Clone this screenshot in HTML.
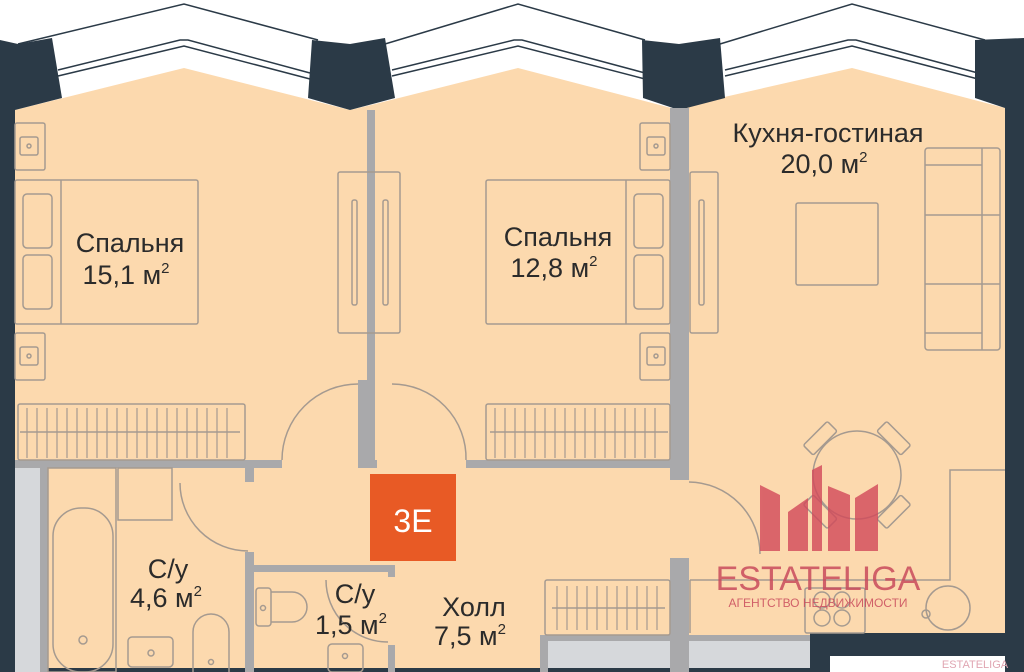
<!DOCTYPE html>
<html><head><meta charset="utf-8"><style>
html,body{margin:0;padding:0;background:#fff;}
svg{display:block;}
text{font-family:"Liberation Sans","DejaVu Sans",sans-serif;fill:#2b2b2b;}
</style></head><body>
<svg width="1024" height="672" viewBox="0 0 1024 672" xmlns="http://www.w3.org/2000/svg">
<rect width="1024" height="672" fill="#fff"/>
<polygon points="15,110 184,68 350,110 375,104 518,68 679,110 689,105 852,68 1005,108 1005,633 810,633 810,672 15,672" fill="#fcd9ae"/>
<g fill="none" stroke="#2b3a47" stroke-width="1.5">
<polyline points="18,44 184,4 318,40"/><polyline points="385,44 518,4 645,40"/><polyline points="720,44 852,4 985,40"/>
<polyline points="58,70 180,40 188,40 310,73"/><polyline points="58,76 184,46 310,79"/>
<polyline points="392,70 514,40 522,40 645,73"/><polyline points="392,76 518,46 645,79"/>
<polyline points="725,70 848,40 856,40 978,73"/><polyline points="725,76 852,46 978,79"/>
</g>
<g fill="#2b3a47">
<polygon points="0,40 18,44 52,38 62,98 15,110 15,672 0,672"/>
<polygon points="312,40 350,44 385,38 395,98 350,110 308,98"/>
<polygon points="642,40 679,44 720,38 725,98 679,110 643,98"/>
<polygon points="975,40 1024,38 1024,672 1005,672 1005,108 975,98"/>
<polygon points="810,633 1024,633 1024,672 810,672"/>
<rect x="22" y="668" width="790" height="4"/>
</g>
<rect x="830" y="656" width="175" height="16" fill="#fff"/>
<text x="975" y="668" font-size="11" text-anchor="middle" style="fill:#e0a6b2">ESTATELIGA</text>
<g fill="#a9a9ab">
<rect x="367" y="110" width="8" height="350"/>
<rect x="670" y="108" width="19" height="372"/>
<rect x="670" y="558" width="19" height="114"/>
<rect x="15" y="460" width="267" height="8"/>
<rect x="358" y="380" width="9" height="88"/>
<rect x="367" y="460" width="10" height="8"/>
<rect x="466" y="460" width="204" height="8"/>
<rect x="40" y="468" width="8" height="204"/>
<rect x="245" y="468" width="9" height="14"/>
<rect x="245" y="552" width="9" height="120"/>
<rect x="254" y="565" width="141" height="7"/>
<rect x="388" y="572" width="7" height="5"/>
<rect x="388" y="645" width="7" height="27"/>
<rect x="540" y="635" width="270" height="6"/>
<rect x="540" y="635" width="8" height="37"/>
</g>
<g fill="#d6d8db">
<rect x="15" y="468" width="25" height="204"/>
<rect x="548" y="641" width="122" height="27"/>
<rect x="689" y="641" width="121" height="27"/>
</g>
<rect x="370" y="474" width="86" height="87" fill="#e85a25"/>
<text x="413" y="532" font-size="32" text-anchor="middle" style="fill:#fff">3E</text>
<g fill="none" stroke="#a59a90" stroke-width="1.5">
<path d="M282,460 A76,76 0 0 1 358,384"/>
<path d="M392,384 A74,74 0 0 1 466,460"/>
<path d="M180,483 A68,68 0 0 0 248,551"/>
<path d="M326,580 A62,62 0 0 0 388,642"/>
<path d="M689,482 A72,72 0 0 1 760,554"/>
<rect x="15" y="123" width="30" height="47" rx="2"/><rect x="20" y="137" width="18" height="18" rx="2"/><circle cx="29" cy="146" r="2"/>
<rect x="15" y="333" width="30" height="47" rx="2"/><rect x="20" y="347" width="18" height="18" rx="2"/><circle cx="29" cy="356" r="2"/>
<rect x="15" y="180" width="183" height="144" rx="2"/><line x1="61" y1="180" x2="61" y2="324"/>
<rect x="23" y="194" width="29" height="54" rx="4"/><rect x="23" y="255" width="29" height="54" rx="4"/>
<rect x="338" y="172" width="62" height="161" rx="2"/>
<rect x="352" y="200" width="5" height="105" rx="2"/><rect x="383" y="200" width="5" height="105" rx="2"/>
<rect x="18" y="404" width="227" height="56" rx="2"/>
<line x1="20" y1="432" x2="240" y2="432"/>
<rect x="640" y="123" width="30" height="47" rx="2"/><rect x="647" y="137" width="18" height="18" rx="2"/><circle cx="656" cy="146" r="2"/>
<rect x="640" y="333" width="30" height="47" rx="2"/><rect x="647" y="347" width="18" height="18" rx="2"/><circle cx="656" cy="356" r="2"/>
<rect x="486" y="180" width="184" height="144" rx="2"/><line x1="626" y1="180" x2="626" y2="324"/>
<rect x="634" y="194" width="29" height="54" rx="4"/><rect x="634" y="255" width="29" height="54" rx="4"/>
<rect x="486" y="404" width="184" height="56" rx="2"/>
<line x1="490" y1="432" x2="668" y2="432"/>
<rect x="545" y="580" width="125" height="55" rx="2"/>
<line x1="552" y1="608" x2="665" y2="608"/>
<rect x="690" y="172" width="28" height="161" rx="2"/><rect x="699" y="200" width="5" height="105" rx="2"/>
<rect x="796" y="203" width="82" height="82" rx="2"/>
<rect x="925" y="148" width="75" height="202" rx="3"/>
<line x1="982" y1="148" x2="982" y2="350"/>
<line x1="925" y1="165" x2="982" y2="165"/><line x1="925" y1="215" x2="1000" y2="215"/>
<line x1="925" y1="284" x2="1000" y2="284"/><line x1="925" y1="333" x2="982" y2="333"/>
<circle cx="857" cy="475" r="44"/>
<g transform="rotate(-45 857 475)"><rect x="840" y="416" width="34" height="14" rx="2"/><rect x="840" y="520" width="34" height="14" rx="2"/></g>
<g transform="rotate(45 857 475)"><rect x="840" y="416" width="34" height="14" rx="2"/><rect x="840" y="520" width="34" height="14" rx="2"/></g>
<path d="M690,580 H950 V470 H1005 M690,580 V633"/>
<rect x="805" y="588" width="60" height="45" rx="2"/>
<circle cx="822" cy="600" r="8"/><circle cx="842" cy="600" r="8"/><circle cx="822" cy="618" r="8"/><circle cx="842" cy="618" r="8"/>
<circle cx="948" cy="608" r="22"/><circle cx="926" cy="614" r="4"/>
<rect x="48" y="468" width="68" height="204"/>
<rect x="118" y="468" width="54" height="52"/>
<rect x="53" y="508" width="60" height="164" rx="28"/><circle cx="83" cy="640" r="4"/>
<rect x="128" y="637" width="45" height="30" rx="4"/><circle cx="151" cy="653" r="3"/>
<path d="M193,672 V632 A18,18 0 0 1 229,632 V672"/><circle cx="211" cy="662" r="2.5"/>
<rect x="256" y="588" width="15" height="38" rx="3"/><path d="M271,592 H292 A15,15 0 0 1 292,622 H271"/><circle cx="263" cy="608" r="2.5"/>
<rect x="328" y="644" width="35" height="28" rx="4"/><circle cx="345" cy="656" r="2.5"/>
</g>
<g stroke="#a59a90" stroke-width="1.2">
<path d="M27,408V458M37,408V458M47,408V458M57,408V458M67,408V458M77,408V458M87,408V458M97,408V458M107,408V458M117,408V458M127,408V458M137,408V458M147,408V458M157,408V458M167,408V458M177,408V458M187,408V458M197,408V458M207,408V458M217,408V458M227,408V458"/>
<path d="M495,408V458M505,408V458M515,408V458M525,408V458M535,408V458M545,408V458M555,408V458M565,408V458M575,408V458M585,408V458M595,408V458M605,408V458M615,408V458M625,408V458M635,408V458M645,408V458M655,408V458"/>
<path d="M557,586V630M567,586V630M577,586V630M587,586V630M597,586V630M607,586V630M617,586V630M627,586V630M637,586V630M647,586V630M657,586V630"/>
</g>
<g fill="#d2495a" opacity="0.8">
<polygon points="760,485 780,495 780,551 760,551"/>
<polygon points="788,512 808,498 808,551 788,551"/>
<polygon points="812,470 822,465 822,551 812,551"/>
<polygon points="828,486 850,495 850,551 828,551"/>
<polygon points="855,498 878,484 878,551 855,551"/>
</g>
<text x="818" y="590" font-size="34" text-anchor="middle" style="fill:#c94b5c;opacity:.85">ESTATELIGA</text>
<text x="818" y="607" font-size="12" text-anchor="middle" style="fill:#c94b5c;opacity:.85">АГЕНТСТВО НЕДВИЖИМОСТИ</text>
<g font-size="27" text-anchor="middle">
<text x="130" y="252">Спальня</text><text x="126" y="284">15,1 м<tspan font-size="15" dy="-11">2</tspan></text>
<text x="558" y="246">Спальня</text><text x="554" y="277">12,8 м<tspan font-size="15" dy="-11">2</tspan></text>
<text x="828" y="142">Кухня-гостиная</text><text x="824" y="173">20,0 м<tspan font-size="15" dy="-11">2</tspan></text>
<text x="168" y="578">С/у</text><text x="166" y="607">4,6 м<tspan font-size="15" dy="-11">2</tspan></text>
<text x="355" y="603">С/у</text><text x="351" y="634">1,5 м<tspan font-size="15" dy="-11">2</tspan></text>
<text x="474" y="616">Холл</text><text x="470" y="645">7,5 м<tspan font-size="15" dy="-11">2</tspan></text>
</g>
</svg>
</body></html>
